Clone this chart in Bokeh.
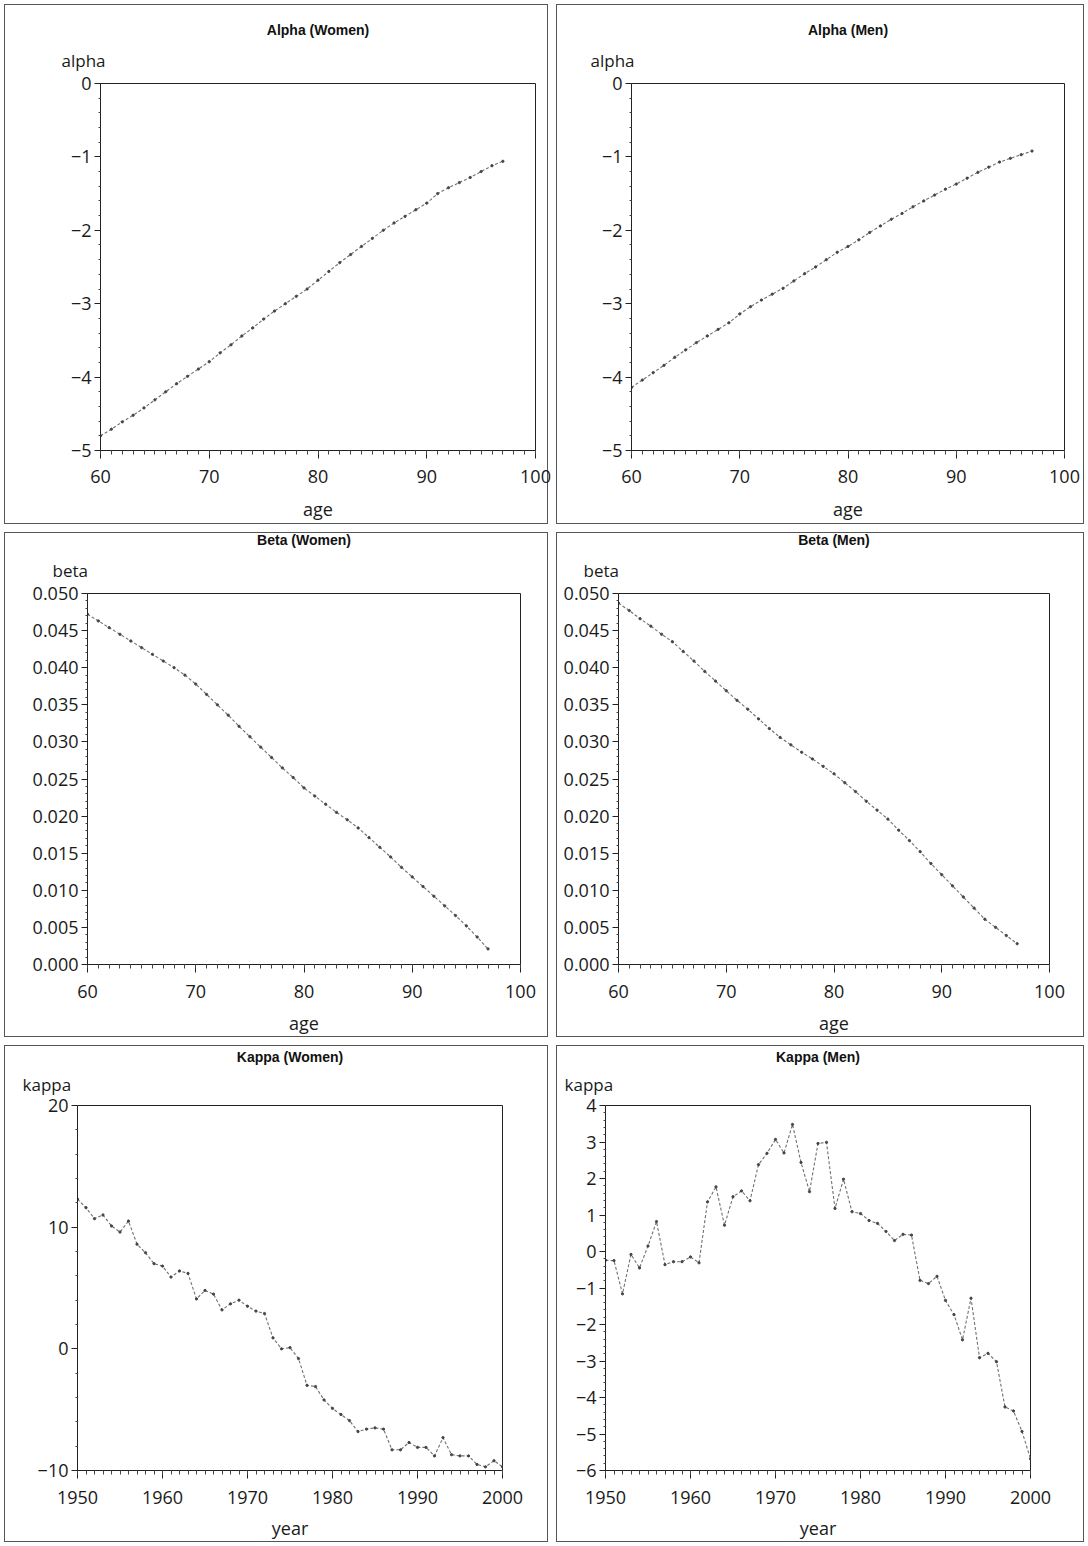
from bokeh.plotting import figure
from bokeh.layouts import column, row
from bokeh.models import Range1d, FixedTicker, NumeralTickFormatter, Title, InlineStyleSheet
from bokeh.embed import file_html
from bokeh.resources import INLINE

# ---------------- data ----------------
ages_alpha = list(range(60, 98))
alpha_women = [-4.80, -4.71, -4.61, -4.52, -4.42, -4.31, -4.20, -4.09, -3.99, -3.89,
               -3.79, -3.67, -3.56, -3.44, -3.33, -3.21, -3.10, -3.00, -2.90, -2.80,
               -2.68, -2.56, -2.44, -2.33, -2.22, -2.11, -2.00, -1.90, -1.81, -1.72,
               -1.63, -1.50, -1.42, -1.35, -1.28, -1.20, -1.12, -1.06]
alpha_men = [-4.14, -4.04, -3.94, -3.84, -3.73, -3.63, -3.53, -3.44, -3.35, -3.26,
             -3.14, -3.04, -2.95, -2.87, -2.79, -2.69, -2.59, -2.50, -2.40, -2.30,
             -2.22, -2.13, -2.03, -1.94, -1.85, -1.77, -1.68, -1.60, -1.52, -1.44,
             -1.37, -1.29, -1.21, -1.14, -1.07, -1.02, -0.97, -0.92]

ages_beta = list(range(60, 98))
beta_women = [0.0472, 0.0463, 0.0454, 0.0445, 0.0436, 0.0427, 0.0418, 0.0409, 0.0400, 0.0390,
              0.0378, 0.0364, 0.0350, 0.0336, 0.0321, 0.0307, 0.0293, 0.0279, 0.0265, 0.0252,
              0.0238, 0.0227, 0.0216, 0.0205, 0.0195, 0.0184, 0.0171, 0.0158, 0.0145, 0.0131,
              0.0118, 0.0105, 0.0092, 0.0079, 0.0066, 0.0052, 0.0037, 0.0021]
beta_men = [0.0487, 0.0477, 0.0466, 0.0456, 0.0445, 0.0435, 0.0422, 0.0409, 0.0395, 0.0382,
            0.0369, 0.0356, 0.0344, 0.0331, 0.0318, 0.0306, 0.0296, 0.0286, 0.0277, 0.0267,
            0.0257, 0.0245, 0.0233, 0.0220, 0.0208, 0.0196, 0.0181, 0.0167, 0.0152, 0.0136,
            0.0121, 0.0106, 0.0091, 0.0076, 0.0061, 0.0050, 0.0039, 0.0028]

years = list(range(1950, 2001))
kappa_women = [12.3, 11.6, 10.7, 11.0, 10.1, 9.6, 10.5, 8.6, 7.9, 7.0,
               6.8, 5.9, 6.4, 6.2, 4.1, 4.8, 4.5, 3.2, 3.7, 4.0,
               3.5, 3.1, 2.9, 0.9, 0.0, 0.1, -0.8, -3.0, -3.1, -4.2,
               -4.9, -5.4, -5.9, -6.8, -6.6, -6.5, -6.6, -8.3, -8.3, -7.7,
               -8.1, -8.1, -8.8, -7.3, -8.7, -8.8, -8.8, -9.5, -9.7, -9.2,
               -9.7]
kappa_men = [-0.24, -0.25, -1.16, -0.08, -0.45, 0.15, 0.82, -0.36, -0.28, -0.28,
             -0.15, -0.31, 1.36, 1.77, 0.72, 1.50, 1.66, 1.39, 2.38, 2.69,
             3.07, 2.70, 3.48, 2.44, 1.64, 2.96, 2.99, 1.18, 1.98, 1.09,
             1.04, 0.85, 0.77, 0.55, 0.30, 0.47, 0.45, -0.79, -0.88, -0.68,
             -1.34, -1.73, -2.42, -1.28, -2.91, -2.79, -3.02, -4.26, -4.37, -4.93,
             -5.68]

age_ticks = [60, 70, 80, 90, 100]
year_ticks = [1950, 1960, 1970, 1980, 1990, 2000]
alpha_ticks = [-5, -4, -3, -2, -1, 0]
beta_ticks = [0.000, 0.005, 0.010, 0.015, 0.020, 0.025, 0.030, 0.035, 0.040, 0.045, 0.050]
kappa_women_ticks = [-10, 0, 10, 20]
kappa_men_ticks = [-6, -5, -4, -3, -2, -1, 0, 1, 2, 3, 4]

TICK_FONT = "Open Sans"
HEAD_FONT = "'Liberation Sans Narrow', 'Liberation Sans'"
frame_css = InlineStyleSheet(css=":host { outline: 1px solid #555; outline-offset: -5px; }")


def minor_between(ticks, n=5):
    out = []
    for a, b in zip(ticks[:-1], ticks[1:]):
        step = (b - a) / n
        out += [a + k * step for k in range(1, n)]
    return out


def panel(xs, ys, xr, yr, yticks, xticks, title, ylab, xlab, w, h, borders,
          title_offset, ylab_offset, std, pads, yfmt=None):
    left, right, top, bottom = borders
    p = figure(width=w, height=h, x_range=Range1d(*xr), y_range=Range1d(*yr),
               output_backend="svg", toolbar_location=None,
               min_border_left=left, min_border_right=right,
               min_border_top=top, min_border_bottom=bottom,
               background_fill_color="white", border_fill_alpha=0,
               outline_line_color="#222", outline_line_width=1,
               stylesheets=[frame_css])
    p.xgrid.visible = False
    p.ygrid.visible = False

    p.line(xs, ys, line_color="#707070", line_width=1.1, line_dash="3 2")
    p.scatter(xs, ys, size=2.3, color="#444444")

    p.xaxis.ticker = FixedTicker(ticks=xticks, minor_ticks=list(range(xr[0], xr[1] + 1)))
    p.yaxis.ticker = FixedTicker(ticks=yticks, minor_ticks=minor_between(yticks))
    if yfmt:
        p.yaxis.formatter = NumeralTickFormatter(format=yfmt)

    for ax in (p.xaxis[0], p.yaxis[0]):
        ax.axis_line_color = "#222"
        ax.major_tick_line_color = "#222"
        ax.minor_tick_line_color = "#444"
        ax.major_tick_in = 0
        ax.minor_tick_in = 0
        ax.major_label_text_font = TICK_FONT
        ax.major_label_text_font_size = "18px"
        ax.major_label_text_color = "#1a1a1a"
    p.xaxis.major_tick_out = 8
    p.xaxis.minor_tick_out = 4
    p.yaxis.major_tick_out = 6
    p.yaxis.minor_tick_out = 2
    p.xaxis.major_label_standoff = std[0]
    p.yaxis.major_label_standoff = 3
    p.xaxis.axis_label = xlab
    p.xaxis.axis_label_standoff = std[1]
    p.xaxis.axis_label_text_font = TICK_FONT
    p.xaxis.axis_label_text_font_size = "18px"
    p.xaxis.axis_label_text_font_style = "normal"
    p.xaxis.axis_label_text_color = "#1a1a1a"

    # panel heading (outermost)
    p.title.text = title
    p.title.align = "center"
    p.title.offset = title_offset
    p.title.text_font = HEAD_FONT
    p.title.text_font_style = "bold"
    p.title.text_font_size = "14px"
    p.title.text_color = "#111"
    p.title.standoff = 0
    p.title.padding = dict(bottom=pads[0])
    # y variable name, horizontal, just above the y axis
    p.add_layout(Title(text=ylab, align="left", offset=ylab_offset,
                       text_font=TICK_FONT, text_font_size="17px",
                       text_font_style="normal", text_color="#1a1a1a",
                       standoff=0, padding=dict(bottom=pads[1])), "above")
    return p


p1 = panel(ages_alpha, alpha_women, (60, 100), (-5, 0), alpha_ticks, age_ticks,
           "Alpha (Women)", "alpha", "age", 552, 528, (100, 17, 83, 78), -7, -39, (11, 11),
           (9, 12))
p2 = panel(ages_alpha, alpha_men, (60, 100), (-5, 0), alpha_ticks, age_ticks,
           "Alpha (Men)", "alpha", "age", 536, 528, (79, 24, 83, 78), -7, -41, (11, 11),
           (9, 12))
p3 = panel(ages_beta, beta_women, (60, 100), (0, 0.05), beta_ticks, age_ticks,
           "Beta (Women)", "beta", "age", 552, 513, (87, 32, 65, 77), -13, -35, (12, 10),
           (9, 12), yfmt="0.000")
p4 = panel(ages_beta, beta_men, (60, 100), (0, 0.05), beta_ticks, age_ticks,
           "Beta (Men)", "beta", "age", 536, 513, (66, 39, 65, 77), -13, -35, (12, 10),
           (9, 12), yfmt="0.000")
p5 = panel(years, kappa_women, (1950, 2000), (-10, 20), kappa_women_ticks, year_ticks,
           "Kappa (Women)", "kappa", "year", 552, 505, (77, 50, 64, 76), -15, -55, (12, 9),
           (6, 10))
p6 = panel(years, kappa_men, (1950, 2000), (-6, 4), kappa_men_ticks, year_ticks,
           "Kappa (Men)", "kappa", "year", 536, 505, (53, 58, 64, 76), -9, -41, (12, 9),
           (6, 10))

layout = column(row(p1, p2), row(p3, p4), row(p5, p6))
open("out.html", "w").write(file_html(layout, INLINE))
